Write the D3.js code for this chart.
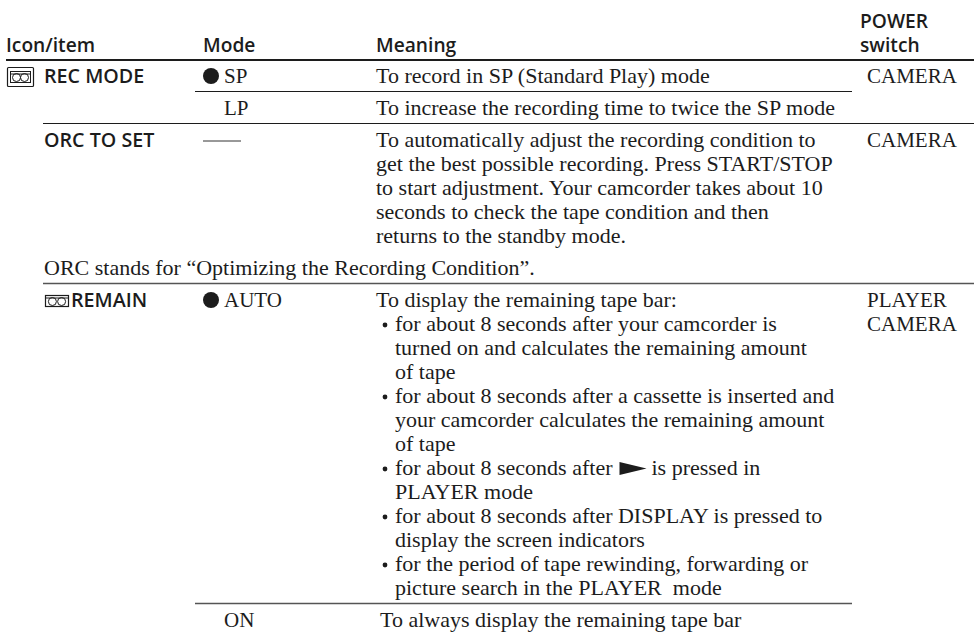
<!DOCTYPE html>
<html><head><meta charset="utf-8">
<script src="https://d3js.org/d3.v7.min.js"></script>
<style>html,body{margin:0;padding:0;background:#fff}svg{display:block}</style>
</head><body><div id="c"></div>
<script>
const headers = ["Icon/item","Mode","Meaning"];
const powerHeader = ["POWER","switch"];
const items = ["REC MODE","","ORC TO SET","","REMAIN",""];
const modes = ["SP","LP","——","","AUTO","ON"];
const defaults = [true,false,false,false,true,false];
const powers = [["CAMERA"],[],["CAMERA"],[],["PLAYER","CAMERA"],[]];
const meanings = [
 ["To record in SP (Standard Play) mode"],
 ["To increase the recording time to twice the SP mode"],
 ["To automatically adjust the recording condition to","get the best possible recording. Press START/STOP","to start adjustment. Your camcorder takes about 10","seconds to check the tape condition and then","returns to the standby mode."],
 [],
 ["To display the remaining tape bar:","• for about 8 seconds after your camcorder is","turned on and calculates the remaining amount","of tape","• for about 8 seconds after a cassette is inserted and","your camcorder calculates the remaining amount","of tape","• for about 8 seconds after ▶ is pressed in","PLAYER mode","• for about 8 seconds after DISPLAY is pressed to","display the screen indicators","• for the period of tape rewinding, forwarding or","picture search in the PLAYER  mode"],
 ["To always display the remaining tape bar"]
];
const noteText = "ORC stands for “Optimizing the Recording Condition”.";

const W=974,H=636,SERIF="'Liberation Serif'",SANS="'Open Sans'",INK="#1c1c1c";
const svg=d3.select("#c").append("svg").attr("width",W).attr("height",H);
const y=d3.scaleLinear().domain([0,1]).range([83,107]);
const x={item:44,headItem:6,mode:203,modeText:224,meaning:376,cont:395,bullet:383,power:867,headPower:860,on:380};
function serif(s,px,py,fs=22){return svg.append("text").attr("x",px).attr("y",py).attr("fill",INK).attr("font-family",SERIF).attr("font-size",fs).style("white-space","pre").text(s);}
function sans(s,px,py,fs=19.2){return svg.append("text").attr("x",px).attr("y",py).attr("fill",INK).attr("font-family",SANS).attr("font-weight",600).attr("font-size",fs).text(s);}

// header
[x.headItem,x.mode,x.meaning].forEach((px,i)=>sans(headers[i],px,51.5));
powerHeader.forEach((s,i)=>sans(s,x.headPower,27.5+24*i));
svg.append("line").attr("x1",x.headItem).attr("x2",W).attr("y1",60).attr("y2",60).attr("stroke",INK).attr("stroke-width",2);

// rows
const GAP=1/3;
let u=0;
const rowStart=meanings.map((m,i)=>{const s=u;u+=Math.max(m.length,1)+GAP;return s;});
rowStart.forEach((s,i)=>{
  const by=y(s);
  if(items[i]) sans(items[i],i===4?71:x.item,by,19.7);
  if(modes[i]){
    if(defaults[i]) svg.append("circle").attr("cx",x.mode+8).attr("cy",by-7).attr("r",8).attr("fill",INK);
    if(modes[i]==="——"){ svg.append("line").attr("x1",x.mode).attr("x2",x.mode+38).attr("y1",by-6).attr("y2",by-6).attr("stroke","#333").attr("stroke-width",1); }
    else serif(modes[i],x.modeText,by,21);
  }
  powers[i].forEach((p,k)=>serif(p,x.power,y(s+k),21));
  meanings[i].forEach((l,k)=>{
    const ly=y(s+k);
    if(l.startsWith("• ")){
      svg.append("circle").attr("cx",x.bullet+2).attr("cy",ly-6).attr("r",2.4).attr("fill",INK);
      const t=l.slice(2);
      if(t.includes("▶")){
        const [a,b]=t.split("▶");
        const ta=serif(a.trimEnd(),x.cont,ly);
        const ex=x.cont+ta.node().getComputedTextLength()+7;
        const p=d3.path();p.moveTo(ex,ly-13);p.lineTo(ex+27,ly-6.5);p.lineTo(ex,ly);p.closePath();
        svg.append("path").attr("d",p.toString()).attr("fill",INK);
        serif(b.trimStart(),ex+32,ly);
      } else serif(t,x.cont,ly);
    } else {
      const isCont=i===4&&k>0;
      serif(l,isCont?x.cont:(i===5?x.on:x.meaning),ly);
    }
  });
  if(i===3) serif(noteText,x.item,by);
});
// rules above each row
const ruleStart=[null,x.mode-8,x.item-1,null,x.item-1,x.mode-8];
const ruleEnd=[0,852,W,0,W,852];
const ruleW=[0,1,1,0,1.6,1.6];
const ruleC=[INK,INK,INK,INK,"#555","#555"];
rowStart.forEach((s,i)=>{
  if(ruleStart[i]===null) return;
  const ry=Math.round(y(s-1))+0.5;
  svg.append("line").attr("x1",ruleStart[i]).attr("x2",ruleEnd[i]).attr("y1",ry).attr("y2",ry).attr("stroke",ruleC[i]).attr("stroke-width",ruleW[i]);
});
// tape icons
function tape(g,x0,y0,w,h,r,frame){
  if(frame){
    g.append("rect").attr("x",x0-3).attr("y",y0-4).attr("width",w+6).attr("height",h+8).attr("fill","none").attr("stroke",INK).attr("stroke-width",1.2).attr("rx",1);
  }
  g.append("rect").attr("x",x0).attr("y",y0).attr("width",w).attr("height",h).attr("fill","none").attr("stroke",INK).attr("stroke-width",frame?1:1.2);
  [w*0.3,w*0.7].forEach(cx=>g.append("circle").attr("cx",x0+cx).attr("cy",y0+h/2+0.5).attr("r",r).attr("fill","none").attr("stroke",INK).attr("stroke-width",1));
  g.append("line").attr("x1",x0).attr("x2",x0+w).attr("y1",y0+2.5).attr("y2",y0+2.5).attr("stroke",INK).attr("stroke-width",1);
}
tape(svg,10.5,71.5,20,11,4,true);
tape(svg,45.5,295.5,23,11,4,false);
</script></body></html>
